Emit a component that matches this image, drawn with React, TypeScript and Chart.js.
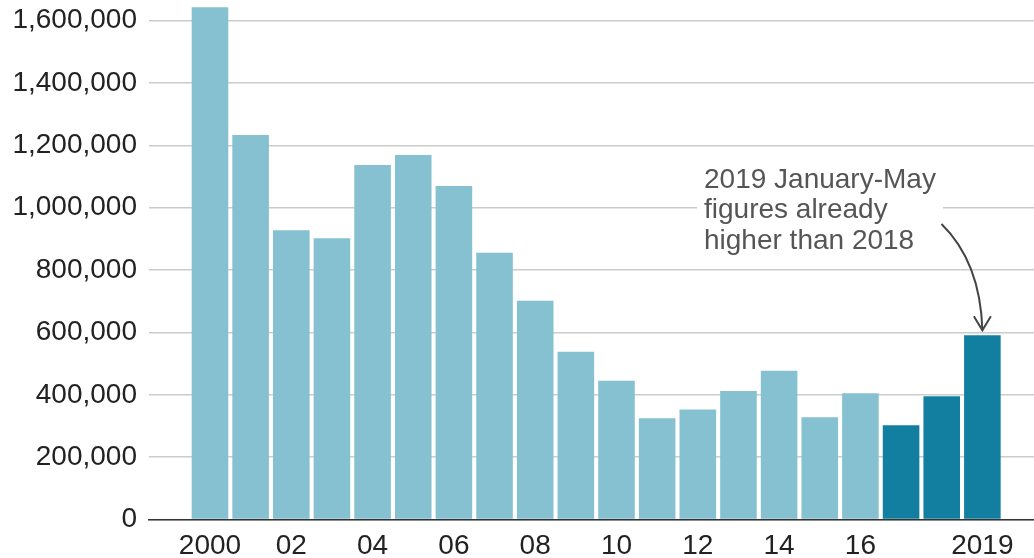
import React, { useEffect, useRef } from "react";
import { Chart, registerables } from "chart.js";

Chart.register(...registerables);

const years: number[] = [
  2000, 2001, 2002, 2003, 2004, 2005, 2006, 2007, 2008, 2009,
  2010, 2011, 2012, 2013, 2014, 2015, 2016, 2017, 2018, 2019,
];
const values: number[] = [
  1643000, 1233000, 928000, 902000, 1137000, 1169000, 1070000, 856000, 702000, 538000,
  445000, 325000, 353000, 412000, 477000, 328000, 405000, 302000, 395000, 591000,
];
const highlightFrom = 2017;
const xTickValues: number[] = [2000, 2002, 2004, 2006, 2008, 2010, 2012, 2014, 2016, 2019];
const xTickLabels: string[] = ["2000", "02", "04", "06", "08", "10", "12", "14", "16", "2019"];
const yTickValues: number[] = [0, 200000, 400000, 600000, 800000, 1000000, 1200000, 1400000, 1600000];
const annotationLines: string[] = ["2019 January-May", "figures already", "higher than 2018"];
const annotationYear = 2019;

const LIGHT = "#86c1d1";
const DARK = "#137fa0";
const FONT = "'Liberation Sans', Arial, Helvetica, sans-serif";

const annotationPlugin = {
  id: "annotation",
  afterDraw(chart: any) {
    const ctx = chart.ctx;
    const xs = chart.scales.x;
    const ys = chart.scales.y;
    ctx.save();
    ctx.fillStyle = "#ffffff";
    ctx.fillRect(697, 162, 246, 92);
    ctx.font = `28px ${FONT}`;
    ctx.fillStyle = "#555555";
    ctx.textAlign = "left";
    ctx.textBaseline = "alphabetic";
    annotationLines.forEach((t, i) => {
      ctx.fillText(t, 704, 187.5 + i * 30.5);
    });
    const idx = years.indexOf(annotationYear);
    const tipX = xs.getPixelForValue(annotationYear);
    const tipY = ys.getPixelForValue(values[idx]) - 5;
    ctx.strokeStyle = "#444444";
    ctx.lineWidth = 2;
    ctx.beginPath();
    ctx.moveTo(941.5, 224);
    ctx.quadraticCurveTo(tipX - 2, 262, tipX, tipY);
    ctx.stroke();
    ctx.beginPath();
    ctx.moveTo(tipX - 8.5, tipY - 14);
    ctx.lineTo(tipX, tipY);
    ctx.lineTo(tipX + 8.5, tipY - 14);
    ctx.stroke();
    ctx.restore();
  },
};

export default function App() {
  const canvasRef = useRef<HTMLCanvasElement>(null);

  useEffect(() => {
    document.body.style.margin = "0";
    const canvas = canvasRef.current;
    if (!canvas) return;
    Chart.defaults.font.family = FONT;
    const chart = new Chart(canvas, {
      type: "bar",
      data: {
        datasets: [
          {
            data: years.map((y, i) => ({ x: y, y: values[i] })),
            backgroundColor: years.map((y) => (y >= highlightFrom ? DARK : LIGHT)),
            borderWidth: 0,
            barPercentage: 0.9,
            categoryPercentage: 1.0,
          },
        ],
      },
      options: {
        animation: false,
        responsive: true,
        maintainAspectRatio: false,
        layout: { padding: { top: 0, right: 0, bottom: 0, left: 0 } },
        plugins: {
          legend: { display: false },
          tooltip: { enabled: false },
        },
        scales: {
          x: {
            type: "linear",
            min: 1998.5,
            max: 2020.27,
            offset: false,
            grid: { display: false, drawTicks: false },
            border: { display: true, color: "#333333", width: 1.5 },
            afterBuildTicks: (scale: any) => {
              scale.ticks = xTickValues.map((v) => ({ value: v }));
            },
            afterFit: (scale: any) => {
              scale.height = 38.5;
              scale.paddingLeft = 0;
              scale.paddingRight = 0;
            },
            ticks: {
              autoSkip: false,
              maxRotation: 0,
              minRotation: 0,
              padding: 10,
              color: "#222222",
              font: { size: 28, family: FONT },
              callback: (v: any) => {
                const i = xTickValues.indexOf(Number(v));
                return i >= 0 ? xTickLabels[i] : "";
              },
            },
          },
          y: {
            min: 0,
            max: 1666400,
            grid: { color: "#cccccc", lineWidth: 1.5, drawTicks: false },
            border: { display: false },
            afterBuildTicks: (scale: any) => {
              scale.ticks = yTickValues.map((v) => ({ value: v }));
            },
            afterFit: (scale: any) => {
              scale.width = 149;
              scale.paddingTop = 0;
              scale.paddingBottom = 0;
            },
            ticks: {
              padding: 12,
              color: "#222222",
              font: { size: 28, family: FONT },
              callback: (v: any) => Number(v).toLocaleString("en-US"),
            },
          },
        },
      },
      plugins: [annotationPlugin],
    });
    return () => chart.destroy();
  }, []);

  return (
    <div style={{ position: "relative", width: "1034px", height: "558px" }}>
      <canvas ref={canvasRef} />
    </div>
  );
}
